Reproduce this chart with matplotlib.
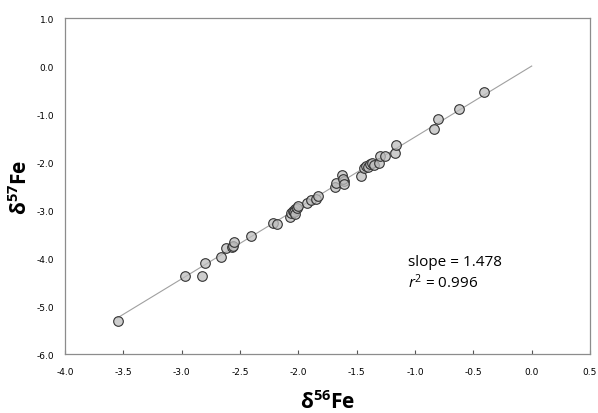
import numpy as np
import matplotlib.pyplot as plt

# d56Fe / d57Fe values
d56 = [-3.55, -2.97, -2.83, -2.80, -2.66, -2.62, -2.57, -2.56, -2.55, -2.41,
       -2.22, -2.18, -2.07, -2.06, -2.05, -2.03, -2.04, -2.03, -2.01, -2.00,
       -1.93, -1.89, -1.85, -1.83, -1.69, -1.68, -1.63, -1.61, -1.62, -1.61,
       -1.46, -1.44, -1.42, -1.40, -1.39, -1.37, -1.35, -1.31, -1.30, -1.26,
       -1.17, -1.16, -0.84, -0.80, -0.62, -0.41]
d57 = [-5.31, -4.38, -4.38, -4.11, -3.97, -3.80, -3.78, -3.75, -3.66, -3.54,
       -3.28, -3.29, -3.14, -3.06, -3.01, -2.98, -3.05, -3.08, -2.95, -2.91,
       -2.85, -2.79, -2.78, -2.70, -2.53, -2.44, -2.27, -2.40, -2.35, -2.45,
       -2.29, -2.13, -2.08, -2.10, -2.05, -2.02, -2.06, -2.01, -1.88, -1.87,
       -1.81, -1.65, -1.31, -1.11, -0.90, -0.54]
slope = 1.478
r2 = 0.996
fit_x = [-3.55, 0.0]

xticks = np.arange(-4.0, 0.51, 0.5)
yticks = np.arange(-6.0, 1.01, 1.0)

plt.rcParams['mathtext.fontset'] = 'custom'
plt.rcParams['mathtext.rm'] = 'Open Sans'
plt.rcParams['mathtext.bf'] = 'Open Sans:bold'
plt.rcParams['mathtext.it'] = 'Open Sans:italic'

fig = plt.figure(figsize=(5.98, 4.14), dpi=100)
ax = fig.add_axes([0.1087, 0.1425, 0.878, 0.8115])

fx = np.array(fit_x)
ax.plot(fx, slope * fx, color='#a0a0a0', lw=0.8, zorder=1)
ax.scatter(d56, d57, s=48, facecolor=(0.74, 0.74, 0.74, 0.75),
           edgecolor='#333333', linewidth=0.8, zorder=2)

ax.set_xlim(-4.0, 0.5)
ax.set_ylim(-6.0, 1.0)
ax.set_xticks(xticks)
ax.set_yticks(yticks)
ax.set_xticklabels([f"{v:.1f}" for v in xticks])
ax.set_yticklabels([f"{v:.1f}" for v in yticks])
ax.tick_params(axis='x', direction='in', length=3, width=0.8, color='#555555',
               labelsize=6.5, pad=9)
ax.tick_params(axis='y', length=0, labelsize=6.5, pad=8)
for s in ax.spines.values():
    s.set_color('#8c8c8c')
    s.set_linewidth(0.9)

ax.set_xlabel(r'$\mathbf{\delta^{56}Fe}$', fontsize=15, labelpad=10)
ax.set_ylabel(r'$\mathbf{\delta^{57}Fe}$', fontsize=15, labelpad=4)

ax.text(-1.06, -4.08, f"slope = {slope:.3f}", fontsize=11, va='center',
        family='Open Sans')
ax.text(-1.06, -4.50, f"$\\mathit{{r}}^2$ = {r2:.3f}", fontsize=11,
        va='center', family='Open Sans')

fig.savefig('out.png', dpi=100)
